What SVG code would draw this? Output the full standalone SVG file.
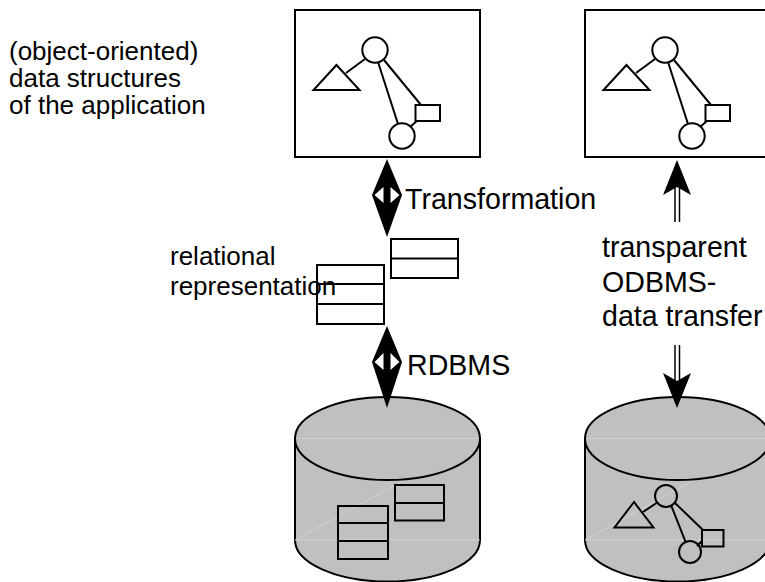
<svg xmlns="http://www.w3.org/2000/svg" width="765" height="582" viewBox="0 0 765 582">
<style>
.ln{fill:none;stroke:#000;stroke-width:2}
.sh{fill:#fff;stroke:#000;stroke-width:2}
.db{fill:#c0c0c0;stroke:#000;stroke-width:2}
.art{fill:none;stroke:#d6d6d6;stroke-width:0.8}
.tl{font-family:"Liberation Sans",Arial,sans-serif;font-size:26px;fill:#000}
.tr{font-family:"Liberation Sans",Arial,sans-serif;font-size:28.6px;fill:#000}
</style>
<defs>
<g id="objs">
<line class="ln" x1="346" y1="73" x2="365" y2="59"/>
<line class="ln" x1="378" y1="62" x2="398" y2="124"/>
<line class="ln" x1="384" y1="60" x2="421" y2="105"/>
<line class="ln" x1="410" y1="127" x2="418" y2="120"/>
<circle class="sh" cx="375" cy="50" r="12.7"/>
<polygon class="sh" points="336.5,65 313.5,90 359.5,90"/>
<rect class="sh" x="415.5" y="105" width="24.5" height="16"/>
<circle class="sh" cx="402" cy="136" r="12.7"/>
</g>
</defs>

<g id="app-box">
<rect class="sh" x="295" y="10" width="185" height="147"/>
<use href="#objs"/>
</g>

<g id="odbms-box">
<rect class="sh" x="585" y="10" width="185" height="147"/>
<use href="#objs" transform="translate(290,0)"/>
</g>

<g id="label-app">
<text class="tl" x="9" y="60">(object-oriented)</text>
<text class="tl" x="9" y="87">data structures</text>
<text class="tl" x="9" y="114">of the application</text>
</g>

<g id="table-a">
<rect class="sh" x="391" y="239" width="67" height="39"/>
<line class="ln" x1="391" y1="258.5" x2="458" y2="258.5"/>
</g>

<g id="label-rel">
<text class="tl" x="170" y="265">relational</text>
<text class="tl" x="170" y="295">representation</text>
</g>

<g id="table-b">
<rect class="ln" x="317" y="265" width="67" height="59"/>
<line class="ln" x1="317" y1="284" x2="384" y2="284"/>
<line class="ln" x1="317" y1="304" x2="384" y2="304"/>
</g>

<g id="rdbms-db">
<path class="db" d="M295,438.5 V540 A92.5,41.5 0 0 0 480,540 V438.5 Z"/>
<line class="art" x1="295" y1="540" x2="480" y2="540"/>
<line class="art" x1="295" y1="540" x2="480" y2="438.5"/>
<ellipse class="db" cx="387.5" cy="438.5" rx="92.5" ry="41.5"/>
<line class="art" x1="296" y1="438.5" x2="479" y2="438.5"/>
<rect class="ln" x="395" y="485" width="49" height="35.5"/>
<line class="ln" x1="395" y1="503" x2="444" y2="503"/>
<rect class="ln" x="338" y="506" width="50" height="53"/>
<line class="ln" x1="338" y1="523" x2="388" y2="523"/>
<line class="ln" x1="338" y1="541" x2="388" y2="541"/>
</g>

<g id="odbms-db">
<path class="db" d="M585,438.5 V540 A92.5,41.5 0 0 0 770,540 V438.5 Z"/>
<line class="art" x1="585" y1="540" x2="770" y2="540"/>
<line class="art" x1="585" y1="540" x2="770" y2="438.5"/>
<ellipse class="db" cx="677.5" cy="438.5" rx="92.5" ry="41.5"/>
<line class="art" x1="586" y1="438.5" x2="769" y2="438.5"/>
<line class="ln" x1="643" y1="512" x2="658" y2="502"/>
<line class="ln" x1="671" y1="505" x2="686" y2="543"/>
<line class="ln" x1="675" y1="503" x2="703" y2="530"/>
<line class="ln" x1="697" y1="546" x2="702" y2="541"/>
<circle class="ln" cx="666" cy="496" r="11"/>
<polygon class="ln" points="634,502 614.5,527.5 653.5,527.5"/>
<rect class="ln" x="702" y="530" width="21.5" height="16.5"/>
<circle class="ln" cx="690" cy="552" r="11"/>
</g>

<g id="connectors">
<g id="arrow-transformation">
<polygon points="387,159 402,195 387,237 372,195" fill="#000"/>
<polygon points="374.5,195 383.5,187 383.5,203" fill="#fff"/>
<polygon points="390.5,187 399.5,195 390.5,203" fill="#fff"/>
</g>
<g id="arrow-rdbms">
<polygon points="387,326 402,362 387,408 372,362" fill="#000"/>
<polygon points="374.5,362 383.5,353 383.5,370" fill="#fff"/>
<polygon points="390.5,353 399.5,362 390.5,370" fill="#fff"/>
</g>
<g id="arrow-up">
<polygon points="677,160 691,195 677,187 663,195" fill="#000"/>
<line x1="675" y1="187" x2="675" y2="222" stroke="#000" stroke-width="1.5"/>
<line x1="679.5" y1="187" x2="679.5" y2="222" stroke="#000" stroke-width="1.5"/>
</g>
<g id="arrow-down">
<polygon points="677,408 691,373 677,381 663,373" fill="#000"/>
<line x1="675" y1="345" x2="675" y2="381" stroke="#000" stroke-width="1.5"/>
<line x1="679.5" y1="345" x2="679.5" y2="381" stroke="#000" stroke-width="1.5"/>
</g>
</g>

<g id="labels-right">
<text class="tr" x="405" y="209">Transformation</text>
<text class="tr" x="407" y="375">RDBMS</text>
<text class="tr" x="602" y="257">transparent</text>
<text class="tr" x="602" y="292">ODBMS-</text>
<text class="tr" x="602" y="326">data transfer</text>
</g>
</svg>
